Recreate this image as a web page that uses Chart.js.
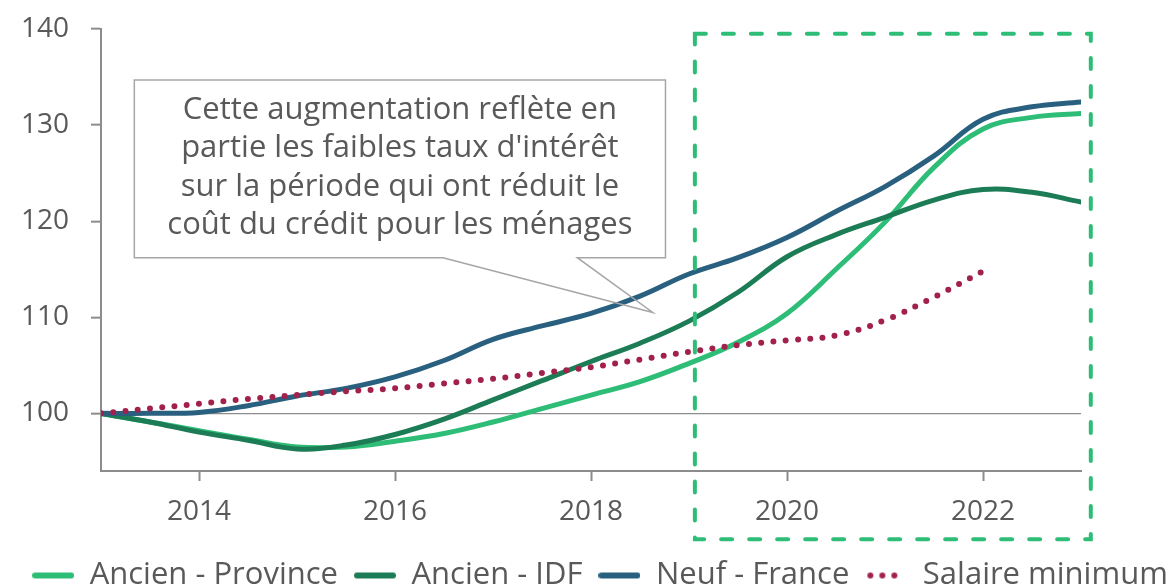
<!DOCTYPE html>
<html lang="fr">
<head>
<meta charset="utf-8">
<script src="https://cdn.jsdelivr.net/npm/chart.js@4.4.1/dist/chart.umd.min.js"></script>
<style>
  html, body { margin: 0; padding: 0; background: #fff; overflow: hidden; }
  #wrap { width: 1174px; height: 587px; overflow: hidden; }
</style>
</head>
<body>
<div id="wrap"><canvas id="grafico" width="1200" height="601"></canvas></div>
<script>
// Données (indice base 100 en 2013), points semestriels
const annees = [2013, 2013.5, 2014, 2014.5, 2015, 2015.5, 2016, 2016.5, 2017, 2017.5, 2018,
                2018.5, 2019, 2019.5, 2020, 2020.5, 2021, 2021.5, 2022, 2022.5, 2023];
const ancienProvince = [100, 99.1, 98.2, 97.3, 96.5, 96.5, 97.1, 97.9, 99.1, 100.5, 101.9,
                        103.3, 105.2, 107.4, 110.4, 115.0, 119.9, 125.6, 129.6, 130.8, 131.2];
const ancienIdf = [100, 99.1, 98.05, 97.2, 96.3, 96.7, 97.8, 99.4, 101.4, 103.4, 105.4,
                   107.3, 109.6, 112.6, 116.3, 118.6, 120.4, 122.2, 123.3, 123.0, 122.0];
const neufFrance = [100, 100.0, 100.1, 100.8, 101.8, 102.6, 103.8, 105.5, 107.7, 109.1, 110.4,
                    112.2, 114.5, 116.2, 118.3, 121.0, 123.6, 126.8, 130.6, 131.9, 132.4];
const salaireMinimum = [100, 100.5, 101.0, 101.5, 101.9, 102.3, 102.6, 103.1, 103.6, 104.2, 104.8,
                        105.6, 106.4, 107.1, 107.6, 108.1, 109.7, 112.1, 114.8, null, null];

const xTicks = [2014, 2016, 2018, 2020, 2022];
const yTicks = [100, 110, 120, 130, 140];

const noms = ['Ancien - Province', 'Ancien - IDF', 'Neuf - France', 'Salaire minimum'];
const couleurs = ['#2ebd76', '#1c7c55', '#29607f', '#a2214a'];

const texteEncadre = [
  "Cette augmentation reflète en",
  "partie les faibles taux d'intérêt",
  "sur la période qui ont réduit le",
  "coût du crédit pour les ménages"
];

const FONT = '"Open Sans"';
const GRIS = '#8c8c8c';
const TEXTE = '#595959';

function points(vals) {
  return annees.map((a, i) => ({ x: a, y: vals[i] }));
}

// petites icônes de légende (trait plein ou pointillé)
function icone(couleur, pointille) {
  const c = document.createElement('canvas');
  c.width = 42; c.height = 8;
  const g = c.getContext('2d');
  if (pointille) {
    g.fillStyle = couleur;
    [5, 17, 29].forEach(px => { g.beginPath(); g.arc(px, 4, 3, 0, Math.PI * 2); g.fill(); });
  } else {
    g.strokeStyle = couleur;
    g.lineWidth = 6;
    g.lineCap = 'round';
    g.beginPath(); g.moveTo(3, 4); g.lineTo(39, 4); g.stroke();
  }
  return c;
}
const icones = couleurs.map((c, i) => icone(c, i === 3));

// encadré pointillé et bulle de commentaire (ancrés sur les échelles)
const zoneRecente = { x0: 2019.06, x1: 2023.1, y0: 139.5, y1: 86.9 };
const bulle = { x0: 2013.34, x1: 2018.76, y0: 134.7, y1: 116.2, b0: 2016.49, b1: 2017.86, px: 2018.63, py: 110.5 };

const decorations = {
  id: 'decorations',
  afterDatasetsDraw(chart) {
    const { ctx, scales: { x, y } } = chart;
    ctx.save();
    // bulle
    const l = x.getPixelForValue(bulle.x0), r = x.getPixelForValue(bulle.x1);
    const t = y.getPixelForValue(bulle.y0), b = y.getPixelForValue(bulle.y1);
    ctx.strokeStyle = '#a6a6a6';
    ctx.lineWidth = 1.5;
    ctx.beginPath();
    ctx.moveTo(l, t); ctx.lineTo(r, t); ctx.lineTo(r, b);
    ctx.lineTo(x.getPixelForValue(bulle.b1), b);
    ctx.lineTo(x.getPixelForValue(bulle.px), y.getPixelForValue(bulle.py));
    ctx.lineTo(x.getPixelForValue(bulle.b0), b);
    ctx.lineTo(l, b);
    ctx.closePath();
    ctx.stroke();
    ctx.fillStyle = TEXTE;
    ctx.font = '31px ' + FONT;
    ctx.textAlign = 'center';
    ctx.textBaseline = 'middle';
    texteEncadre.forEach((ligne, i) => ctx.fillText(ligne, (l + r) / 2, t + 30 + i * 38.5));
    // zone pointillée
    const zl = x.getPixelForValue(zoneRecente.x0), zr = x.getPixelForValue(zoneRecente.x1);
    const zt = y.getPixelForValue(zoneRecente.y0), zb = y.getPixelForValue(zoneRecente.y1);
    ctx.strokeStyle = '#2ebd76';
    ctx.lineWidth = 4;
    ctx.lineCap = 'round';
    ctx.setLineDash([11, 17]);
    ctx.strokeRect(zl, zt, zr - zl, zb - zt);
    ctx.restore();
  }
};

const series = [ancienProvince, ancienIdf, neufFrance, salaireMinimum];

const chart = new Chart(document.getElementById('grafico'), {
  type: 'line',
  data: {
    datasets: series.map((vals, i) => ({
      label: noms[i],
      data: points(vals),
      borderColor: couleurs[i],
      backgroundColor: couleurs[i],
      borderWidth: i === 3 ? 6 : 5,
      pointRadius: 0,
      tension: 0.4,
      borderCapStyle: 'round',
      borderDash: i === 3 ? [0, 12.3] : [],
      spanGaps: false,
      order: i === 3 ? 0 : 3 - i
    }))
  },
  options: {
    responsive: false,
    animation: false,
    devicePixelRatio: 1,
    layout: { padding: { left: 0, right: 0, top: 29, bottom: 0 } },
    plugins: {
      tooltip: { enabled: false },
      legend: {
        position: 'bottom',
        labels: {
          usePointStyle: true,
          pointStyleWidth: 42,
          boxHeight: 8,
          padding: 16,
          color: TEXTE,
          font: { family: FONT, size: 31 },
          generateLabels: (ch) => ch.data.datasets.map((ds, i) => ({
            text: ds.label,
            pointStyle: icones[i],
            fillStyle: couleurs[i],
            strokeStyle: couleurs[i],
            lineWidth: 0,
            hidden: false,
            datasetIndex: i,
            fontColor: TEXTE
          }))
        }
      }
    },
    scales: {
      x: {
        type: 'linear',
        min: 2013,
        max: 2023,
        afterBuildTicks: (axis) => { axis.ticks = xTicks.map(v => ({ value: v })); },
        afterFit: (scale) => { scale.height = 73; scale.paddingLeft = 0; scale.paddingRight = 0; },
        ticks: {
          callback: (v) => String(v),
          color: TEXTE,
          font: { family: FONT, size: 28 },
          padding: 14,
          maxRotation: 0
        },
        grid: { color: 'rgba(0,0,0,0)', tickColor: GRIS, tickLength: 10, tickWidth: 2 },
        border: { color: GRIS, width: 2 }
      },
      y: {
        min: 94,
        max: 140,
        afterBuildTicks: (axis) => { axis.ticks = yTicks.map(v => ({ value: v })); },
        afterFit: (scale) => { scale.width = 101; scale.paddingTop = 0; scale.paddingBottom = 0; },
        ticks: {
          color: TEXTE,
          font: { family: FONT, size: 28 },
          padding: 22
        },
        grid: {
          color: (c) => (c.tick && c.tick.value === 100 ? GRIS : 'rgba(0,0,0,0)'),
          lineWidth: 1.3,
          tickColor: GRIS,
          tickLength: 10,
          tickWidth: 2
        },
        border: { color: GRIS, width: 2 }
      },
      // axe vide à droite : réserve la marge droite sans réduire la légende
      marge: {
        type: 'linear',
        position: 'right',
        afterFit: (scale) => { scale.width = 119; scale.paddingTop = 0; scale.paddingBottom = 0; },
        ticks: { display: false },
        grid: { display: false, drawTicks: false },
        border: { display: false }
      }
    }
  },
  plugins: [decorations]
});
</script>
</body>
</html>
